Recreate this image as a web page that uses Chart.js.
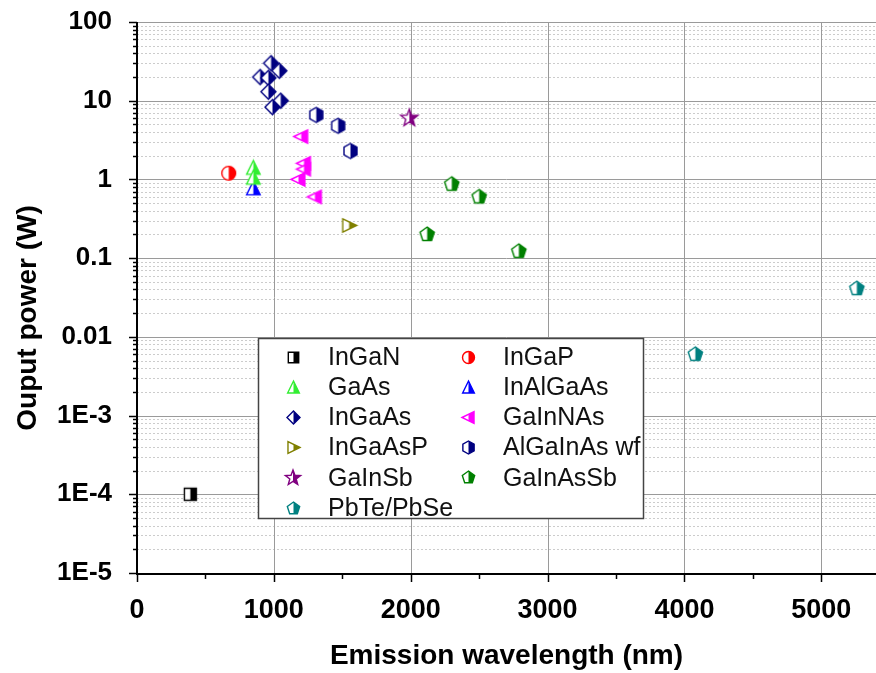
<!DOCTYPE html>
<html><head><meta charset="utf-8">
<script src="https://cdn.jsdelivr.net/npm/chart.js@4/dist/chart.umd.min.js"></script>
<style>html,body{margin:0;padding:0;background:#fff;}canvas{display:block}</style>
</head><body>
<canvas id="c" width="876" height="673"></canvas>
<script>
// ---- data (wavelength nm, power W) ----
const xTickValues = [0, 1000, 2000, 3000, 4000, 5000];
const yTickValues = [1e-5, 1e-4, 1e-3, 0.01, 0.1, 1, 10, 100];
const yTickLabels = ['1E-5', '1E-4', '1E-3', '0.01', '0.1', '1', '10', '100'];
const seriesNames = ['InGaN', 'InGaP', 'GaAs', 'InAlGaAs', 'InGaAs', 'GaInNAs', 'InGaAsP', 'AlGaInAs wf', 'GaInSb', 'GaInAsSb', 'PbTe/PbSe'];
const InGaN = [[390, 1e-4]];
const InGaP = [[670, 1.2]];
const GaAs = [[850, 1.4], [850, 1.05]];
const InAlGaAs = [[850, 0.77]];
const InGaAs = [[980, 30], [1040, 24], [900, 20], [960, 19.5], [960, 13], [1050, 10], [990, 8.3]];
const GaInNAs = [[1200, 3.5], [1220, 1.6], [1220, 1.35], [1180, 1.0], [1300, 0.6]];
const InGaAsP = [[1550, 0.26]];
const AlGaInAsWf = [[1310, 6.6], [1470, 4.8], [1560, 2.3]];
const GaInSb = [[1990, 6.0]];
const GaInAsSb = [[2300, 0.87], [2500, 0.6], [2120, 0.2], [2790, 0.122]];
const PbTePbSe = [[5260, 0.041], [4080, 0.006]];
const seriesData = [InGaN, InGaP, GaAs, InAlGaAs, InGaAs, GaInNAs, InGaAsP, AlGaInAsWf, GaInSb, GaInAsSb, PbTePbSe];

// ---- styles ----
const seriesShapes = ['square', 'circle', 'triUp', 'triUp', 'diamond', 'triLeft', 'triRight', 'hexagon', 'star', 'pentagon', 'pentagon'];
const seriesColors = ['#000000', '#ff0000', '#33ee33', '#0000ff', '#000080', '#ff00ff', '#808000', '#000080', '#800080', '#008000', '#008080'];

function makeMarker(shape, color, size) {
  if (shape === 'star') size = Math.round(size * 1.2);
  const pad = 2;
  const c = document.createElement('canvas');
  c.width = c.height = size + pad * 2;
  const ctx = c.getContext('2d');
  const cx = c.width / 2, cy = c.height / 2, r = size / 2;
  function poly(n, rot, rad) {
    for (let k = 0; k < n; k++) {
      const a = (rot + k * 360 / n) * Math.PI / 180;
      const x = cx + rad * Math.cos(a), y = cy + rad * Math.sin(a);
      if (k === 0) ctx.moveTo(x, y); else ctx.lineTo(x, y);
    }
  }
  function path() {
    ctx.beginPath();
    switch (shape) {
      case 'square': ctx.rect(cx - r * 0.8, cy - r * 0.8, r * 1.6, r * 1.6); break;
      case 'circle': ctx.arc(cx, cy, r * 0.92, 0, Math.PI * 2); break;
      case 'triUp': ctx.moveTo(cx, cy - r); ctx.lineTo(cx + r * 0.9, cy + r * 0.85); ctx.lineTo(cx - r * 0.9, cy + r * 0.85); break;
      case 'triLeft': ctx.moveTo(cx - r, cy); ctx.lineTo(cx + r * 0.85, cy - r * 0.9); ctx.lineTo(cx + r * 0.85, cy + r * 0.9); break;
      case 'triRight': ctx.moveTo(cx + r, cy); ctx.lineTo(cx - r * 0.85, cy - r * 0.9); ctx.lineTo(cx - r * 0.85, cy + r * 0.9); break;
      case 'diamond': ctx.moveTo(cx, cy - r); ctx.lineTo(cx + r, cy); ctx.lineTo(cx, cy + r); ctx.lineTo(cx - r, cy); break;
      case 'hexagon': poly(6, -90, r); break;
      case 'pentagon': poly(5, -90, r); break;
      case 'star':
        for (let k = 0; k < 10; k++) {
          const a = (-90 + k * 36) * Math.PI / 180, rad = k % 2 ? r * 0.42 : r;
          const x = cx + rad * Math.cos(a), y = cy + rad * Math.sin(a);
          if (k === 0) ctx.moveTo(x, y); else ctx.lineTo(x, y);
        }
        break;
    }
    ctx.closePath();
  }
  path(); ctx.fillStyle = '#fff'; ctx.fill();
  ctx.save(); path(); ctx.clip(); ctx.fillStyle = color; ctx.fillRect(cx, 0, c.width, c.height); ctx.restore();
  path(); ctx.strokeStyle = color; ctx.lineWidth = 1.4; ctx.lineJoin = 'miter'; ctx.stroke();
  return c;
}

const datasets = seriesNames.map((name, i) => ({
  label: name,
  data: seriesData[i].map(p => ({ x: p[0], y: p[1] })),
  pointStyle: makeMarker(seriesShapes[i], seriesColors[i], 15),
  legendMarker: makeMarker(seriesShapes[i], seriesColors[i], 13),
  pointRadius: 7,
  showLine: false
}));

const FONT = "'Liberation Sans', Arial, sans-serif";

const framePlugin = {
  id: 'frame',
  beforeDatasetsDraw(chart) {
    const { ctx, chartArea: a, scales: { x, y } } = chart;
    ctx.save();
    // minor horizontal dotted lines
    ctx.strokeStyle = '#cccccc'; ctx.lineWidth = 1; ctx.setLineDash([2, 2]);
    for (let e = -5; e < 2; e++) {
      for (let m = 2; m <= 9; m++) {
        const py = Math.round(y.getPixelForValue(m * Math.pow(10, e))) + 0.5;
        ctx.beginPath(); ctx.moveTo(a.left, py); ctx.lineTo(a.right, py); ctx.stroke();
      }
    }
    ctx.setLineDash([]);
    ctx.strokeStyle = '#9a9a9a'; ctx.lineWidth = 1;
    yTickValues.forEach(v => {
      const py = Math.round(y.getPixelForValue(v)) + 0.5;
      ctx.beginPath(); ctx.moveTo(a.left, py); ctx.lineTo(a.right, py); ctx.stroke();
    });
    xTickValues.forEach(v => {
      const px = Math.round(x.getPixelForValue(v)) + 0.5;
      ctx.beginPath(); ctx.moveTo(px, a.top); ctx.lineTo(px, a.bottom); ctx.stroke();
    });
    // axes
    ctx.strokeStyle = '#000'; ctx.lineWidth = 2;
    ctx.beginPath(); ctx.moveTo(a.left, a.top); ctx.lineTo(a.left, a.bottom + 1); ctx.lineTo(a.right, a.bottom + 1); ctx.stroke();
    ctx.lineWidth = 1.5;
    // y ticks
    for (let e = -5; e <= 2; e++) {
      const py = Math.round(y.getPixelForValue(Math.pow(10, e))) + 0.5;
      ctx.beginPath(); ctx.moveTo(a.left, py); ctx.lineTo(a.left - 8, py); ctx.stroke();
      if (e < 2) for (let m = 2; m <= 9; m++) {
        const q = Math.round(y.getPixelForValue(m * Math.pow(10, e))) + 0.5;
        ctx.beginPath(); ctx.moveTo(a.left, q); ctx.lineTo(a.left - 4, q); ctx.stroke();
      }
    }
    // x ticks
    for (let v = 0; v <= 5000; v += 500) {
      const px = Math.round(x.getPixelForValue(v)) + 0.5;
      const len = v % 1000 === 0 ? 8 : 5;
      ctx.beginPath(); ctx.moveTo(px, a.bottom + 1); ctx.lineTo(px, a.bottom + 1 + len); ctx.stroke();
    }
    // y axis title
    ctx.translate(28, 318); ctx.rotate(-Math.PI / 2);
    ctx.font = 'bold 28px ' + FONT; ctx.fillStyle = '#000'; ctx.textAlign = 'center'; ctx.textBaseline = 'middle';
    ctx.fillText('Ouput power (W)', 0, 0);
    ctx.restore();
  },
  afterDatasetsDraw(chart) {
    const { ctx } = chart;
    ctx.save();
    const bx = 258, by = 338, bw = 385, bh = 180;
    ctx.fillStyle = '#fff'; ctx.fillRect(bx, by, bw, bh);
    ctx.strokeStyle = '#444'; ctx.lineWidth = 1.5; ctx.strokeRect(bx + 0.5, by + 0.5, bw, bh);
    ctx.font = '25px ' + FONT; ctx.fillStyle = '#111'; ctx.textBaseline = 'middle'; ctx.textAlign = 'left';
    chart.data.datasets.forEach((ds, i) => {
      const col = i % 2, row = Math.floor(i / 2);
      const mx = col ? 468 : 293, tx = col ? 503 : 328, my = 357 + row * 30.2;
      const m = ds.legendMarker;
      ctx.drawImage(m, Math.round(mx - m.width / 2), Math.round(my - m.height / 2));
      ctx.fillText(ds.label, tx, my + 1);
    });
    ctx.restore();
  }
};

new Chart(document.getElementById('c'), {
  type: 'scatter',
  data: { datasets },
  options: {
    responsive: false,
    animation: false,
    events: [],
    layout: { autoPadding: false, padding: { top: 22, right: 0, bottom: 0, left: 0 } },
    plugins: { legend: { display: false }, tooltip: { enabled: false } },
    scales: {
      x: {
        type: 'linear', min: 0, max: 5400,
        grid: { display: false }, border: { display: false },
        afterBuildTicks: s => { s.ticks = xTickValues.map(v => ({ value: v })); },
        afterFit: s => { s.height = 100; s.paddingLeft = 0; s.paddingRight = 0; },
        ticks: { color: '#000', padding: 13, maxRotation: 0, font: { family: FONT, size: 27, weight: 'bold' }, callback: v => String(v) },
        title: { display: true, text: 'Emission wavelength (nm)', color: '#000', padding: { top: 0, bottom: 0 }, font: { family: FONT, size: 28, weight: 'bold' } }
      },
      y: {
        type: 'logarithmic', min: 1e-5, max: 100,
        grid: { display: false }, border: { display: false },
        afterBuildTicks: s => { s.ticks = yTickValues.map(v => ({ value: v })); },
        afterFit: s => { s.width = 137; s.paddingTop = 0; s.paddingBottom = 0; },
        ticks: { color: '#000', padding: 17, font: { family: FONT, size: 26, weight: 'bold' }, callback: (v, i) => yTickLabels[i] }
      }
    }
  },
  plugins: [framePlugin]
});
</script>
</body></html>
